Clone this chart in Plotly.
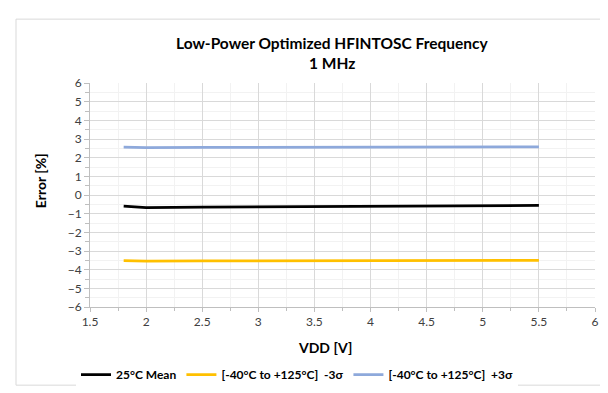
import plotly.graph_objects as go

vdd = [1.8, 2.0, 2.5, 3.0, 3.5, 4.0, 4.5, 5.0, 5.5]
mean_25c = [-0.59, -0.67, -0.65, -0.64, -0.62, -0.61, -0.60, -0.58, -0.56]
minus_3s = [-3.52, -3.54, -3.53, -3.52, -3.52, -3.51, -3.51, -3.50, -3.50]
plus_3s = [2.57, 2.54, 2.55, 2.56, 2.57, 2.57, 2.58, 2.58, 2.58]

names = ["25°C Mean", "[-40°C to +125°C]  -3σ", "[-40°C to +125°C]  +3σ"]
colors = ["#000000", "#FFC000", "#8EA9DB"]

FONT = "Lato"
W, H = 608, 393
L, R, T, B = 82, 21, 75, 83
pw, ph = W - L - R, H - T - B

fig = go.Figure()
for ys, n, c in zip([mean_25c, minus_3s, plus_3s], names, colors):
    fig.add_trace(go.Scatter(x=vdd, y=ys, mode="lines", name="<b>" + n + "</b>",
                             line=dict(color=c, width=2.75)))

def px_x(p):
    return (p - L) / pw

def px_y(p):
    return (H - B - p) / ph

tickfont = dict(family=FONT, size=12, color="#404040")

fig.update_layout(
    width=W, height=H,
    margin=dict(l=L, r=R, t=T, b=B),
    paper_bgcolor="white", plot_bgcolor="white",
    font=dict(family=FONT, color="#404040", size=11),
    showlegend=True,
    legend=dict(orientation="h", x=px_x(68), xanchor="left", y=px_y(381), yanchor="middle",
                font=dict(family=FONT, size=12, color="#000000"),
                itemwidth=30, tracegroupgap=0,
                traceorder="normal"),
    xaxis=dict(range=[1.5, 6], dtick=0.5, tick0=1.5, showgrid=True, gridcolor="#D9D9D9",
               gridwidth=1, zeroline=False, showline=True, linecolor="#BFBFBF",
               ticks="outside", ticklen=4, tickcolor="#BFBFBF",
               tickfont=tickfont,
               minor=dict(dtick=0.25, tick0=1.5, showgrid=True, gridcolor="#F2F2F2",
                          ticks="outside", ticklen=3, tickcolor="#BFBFBF")),
    yaxis=dict(range=[-6, 6], dtick=1, showgrid=True, gridcolor="#D9D9D9",
               gridwidth=1, zeroline=False, showline=True, linecolor="#BFBFBF",
               ticks="outside", ticklen=5, tickcolor="#BFBFBF",
               tickfont=tickfont,
               minor=dict(dtick=0.5, showgrid=True, gridcolor="#F2F2F2",
                          ticks="outside", ticklen=4, tickcolor="#BFBFBF")),
    annotations=[
        dict(text="<b>Low-Power Optimized HFINTOSC Frequency</b>", x=px_x(324), y=px_y(33),
             xref="paper", yref="paper", showarrow=False, xanchor="center", yanchor="middle",
             font=dict(family=FONT, size=15.5, color="#000000")),
        dict(text="<b>1 MHz</b>", x=px_x(324), y=px_y(54),
             xref="paper", yref="paper", showarrow=False, xanchor="center", yanchor="middle",
             font=dict(family=FONT, size=15.5, color="#000000")),
        dict(text="<b>VDD [V]</b>", x=px_x(317), y=px_y(352),
             xref="paper", yref="paper", showarrow=False, xanchor="center", yanchor="middle",
             font=dict(family=FONT, size=14, color="#000000")),
        dict(text="<b>Error [%]</b>", x=px_x(32), y=px_y(178), textangle=-90,
             xref="paper", yref="paper", showarrow=False, xanchor="center", yanchor="middle",
             font=dict(family=FONT, size=14, color="#000000")),
    ],
    shapes=[dict(type="rect", xref="paper", yref="paper",
                 x0=px_x(8), x1=px_x(598), y0=px_y(392), y1=px_y(8),
                 line=dict(color="#D9D9D9", width=1), layer="below")],
)

fig.write_html("out.html")
